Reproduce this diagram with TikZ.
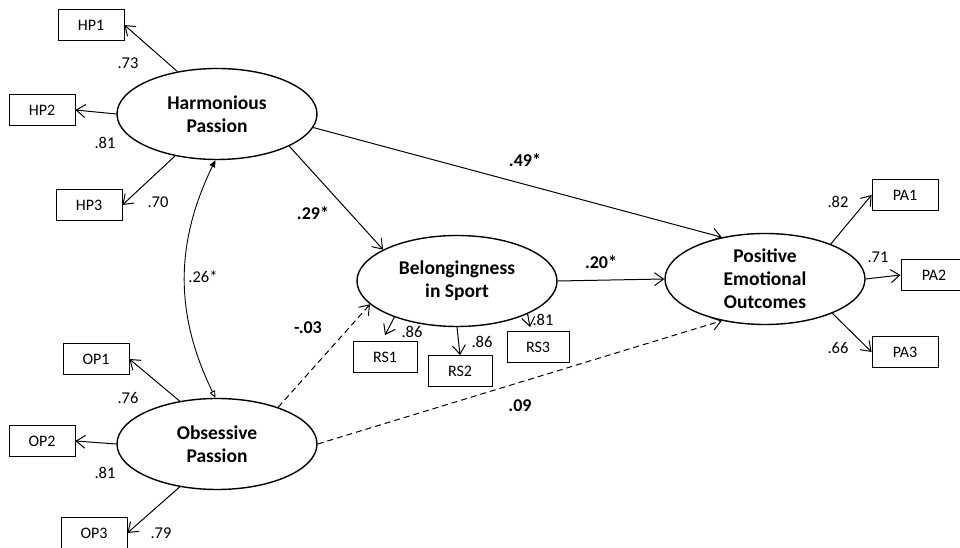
\documentclass[tikz,border=0pt]{standalone}
\usepackage{fontspec}
\setmainfont{Carlito}
\usetikzlibrary{arrows.meta,shapes.geometric}

\begin{document}
\begin{tikzpicture}[x=1pt,y=1pt,
    latent/.style={draw,ellipse,line width=1.4pt,minimum width=200pt,minimum height=91pt,inner sep=0pt,align=center,font=\fontsize{19.5}{23}\selectfont\bfseries},
    item/.style={draw,line width=0.8pt,minimum width=66pt,minimum height=31pt,inner sep=0pt,font=\fontsize{16}{19}\selectfont},
    load/.style={inner sep=0pt,font=\fontsize{16.5}{19}\selectfont},
    coef/.style={inner sep=0pt,font=\fontsize{18}{21}\selectfont\bfseries},
    effect/.style={line width=1pt,-{Straight Barb[length=9pt,width=13pt]}},
    nseffect/.style={effect,dash pattern=on 6pt off 4pt},
    cov/.style={line width=0.9pt,{Triangle[length=7pt,width=6pt]}-{Triangle[length=7pt,width=6pt,open]}}]
    \useasboundingbox (0,0) rectangle (960,548);

    % latent variables
    \node[latent] (hp) at (217,434) {Harmonious\\Passion};
    \node[latent] (op) at (217,104) {Obsessive\\Passion};
    \node[latent] (bs) at (457,267) {Belongingness\\in Sport};
    \node[latent] (peo) at (765,269) {Positive\\Emotional\\Outcomes};

    % indicators
    \node[item] (hp1) at (91,523) {HP1};
    \node[item] (hp2) at (42,438) {HP2};
    \node[item] (hp3) at (89,343) {HP3};
    \node[item] (op1) at (96,189) {OP1};
    \node[item] (op2) at (42,107) {OP2};
    \node[item] (op3) at (94,15) {OP3};
    \node[item,minimum width=64pt] (rs1) at (385,191) {RS1};
    \node[item,minimum width=64pt] (rs2) at (460,177) {RS2};
    \node[item,minimum width=62pt] (rs3) at (538,201) {RS3};
    \node[item] (pa1) at (905,353) {PA1};
    \node[item] (pa2) at (934,273) {PA2};
    \node[item] (pa3) at (905,196) {PA3};

    % loadings
    \draw[effect] (hp.133) -- (hp1.east);
    \draw[effect] (hp.west) -- (hp2.east);
    \draw[effect] (hp.225) -- (hp3.east);
    \draw[effect] (op.131) -- (op1.east);
    \draw[effect] (op.west) -- (op2.east);
    \draw[effect] (op.229) -- (op3.east);
    \draw[effect] (bs.210) -- ([yshift=6pt]rs1.north);
    \draw[effect] (bs.south) -- (rs2.north);
    \draw[effect] (bs.335) -- ([xshift=-8pt,yshift=4pt]rs3.north);
    \draw[effect] (peo.28) -- (pa1.west);
    \draw[effect] (peo.east) -- (pa2.west);
    \draw[effect] (peo.-27) -- (pa3.west);

    \node[load] (l1) at (128,485) {.73};
    \node[load] (l2) at (105,405) {.81};
    \node[load] (l3) at (158,346) {.70};
    \node[load] (l4) at (128,150) {.76};
    \node[load] (l5) at (105,75) {.81};
    \node[load] (l6) at (161,15) {.79};
    \node[load] (l7) at (412,216) {.86};
    \node[load] (l8) at (482,206) {.86};
    \node[load] (l9) at (543,228) {.81};
    \node[load] (l10) at (838,346) {.82};
    \node[load] (l11) at (878,291) {.71};
    \node[load] (l12) at (838,200) {.66};

    % structural paths
    \draw[effect] (hp.-24) -- (bs.157);
    \draw[effect] (hp.-8) -- (peo.136);
    \draw[effect] (bs.east) -- (peo.west);
    \draw[nseffect] (op.31) -- (bs.195);
    \draw[nseffect] (op.east) -- (peo.224);
    \draw[cov] (hp.268) to[bend right=26] (op.92);

    \node[coef] (c1) at (313,335) {.29*};
    \node[coef] (c2) at (525,388) {.49*};
    \node[coef] (c3) at (601,286) {.20*};
    \node[coef] (c4) at (308,220) {-.03};
    \node[coef] (c5) at (520,142) {.09};
    \node[load] (c6) at (203,271) {.26*};
\end{tikzpicture}
\end{document}
